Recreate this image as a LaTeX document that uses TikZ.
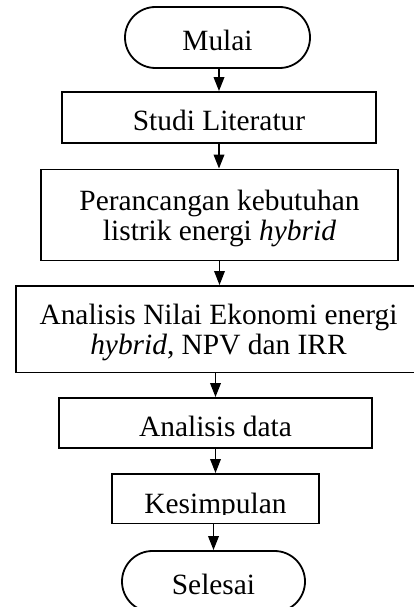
\documentclass[tikz,border=0pt]{standalone}
\usepackage{fontspec}
\setmainfont{Liberation Serif}
\usetikzlibrary{arrows.meta,shapes.misc}
\begin{document}
\begin{tikzpicture}[x=1pt,y=-1pt,
  box/.style={draw, line width=1.8pt, inner sep=0pt, font=\fontsize{29.4}{29.5}\selectfont, align=center},
  single/.style={text height=26pt, text depth=0pt},
  double/.style={text height=50pt, text depth=0pt},
  term/.style={box, single, rounded rectangle},
  flow/.style={line width=1.8pt, -{Triangle[length=14pt,width=10.5pt]}}]
\fill[white] (0,0) rectangle (414,607);
\useasboundingbox (0,0) rectangle (414,607);
\node[term, minimum width=185pt, minimum height=61pt] (mulai) at (217.5,37.5) {Mulai};
\node[box, single, minimum width=314pt, minimum height=51pt] (studi) at (219,117.5) {Studi Literatur};
\node[box, double, minimum width=357pt, minimum height=91pt] (peran) at (219.5,215) {Perancangan kebutuhan\\listrik energi \textit{hybrid}};
\node[box, double, minimum width=405pt, minimum height=86.5pt] (anilai) at (218.5,329.2) {Analisis Nilai Ekonomi energi\\\textit{hybrid}, NPV dan IRR};
\node[box, single, minimum width=313pt, minimum height=50pt] (adata) at (215.5,423) {Analisis data};
\node[box, minimum width=207pt, minimum height=49.5pt] (kes) at (215.5,498.7) {};
\begin{scope}
\clip (kes.north west) rectangle ([yshift=9.5pt]kes.south east);
\node[font=\fontsize{29.4}{29.5}\selectfont, anchor=base, inner sep=0pt] (kestext) at (215.5,513) {Kesimpulan};
\end{scope}
\node[term, minimum width=183pt, minimum height=61pt] (selesai) at (213.5,581.5) {Selesai};
\draw[flow] (mulai.south -| studi.north) -- (studi.north);
\draw[flow] (studi.south) -- (studi.south |- peran.north);
\draw[flow] (peran.south) -- (peran.south |- anilai.north);
\draw[flow] (anilai.south -| adata.north) -- (adata.north);
\draw[flow] (adata.south) -- (kes.north);
\draw[flow] (kes.south -| selesai.north) -- (selesai.north);
\end{tikzpicture}
\end{document}
